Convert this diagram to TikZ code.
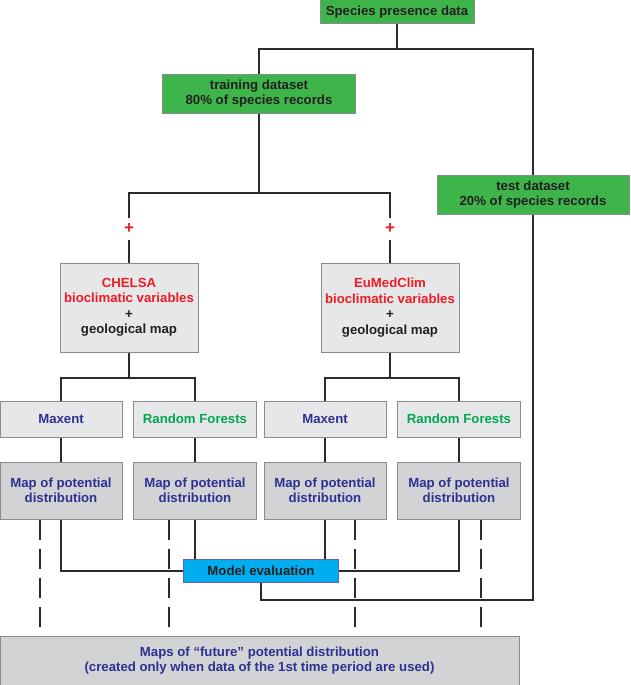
\documentclass[tikz,border=0pt]{standalone}
\usepackage{fontspec}
\setmainfont{Liberation Sans}
\definecolor{boxgreen}{HTML}{3DB54A}
\definecolor{lightgray}{HTML}{E6E7E8}
\definecolor{mapgray}{HTML}{D1D3D4}
\definecolor{evalblue}{HTML}{00AEEF}
\definecolor{txtred}{HTML}{ED1C24}
\definecolor{txtnavy}{HTML}{2E3192}
\definecolor{txtgreen}{HTML}{00A651}
\definecolor{txtdark}{HTML}{231F20}
\definecolor{bordergray}{HTML}{8A8C8E}
\definecolor{linedark}{HTML}{2B2B2B}
\tikzset{
  basebox/.style={draw=bordergray, line width=1pt, rectangle, inner sep=0pt, align=center,
    font=\bfseries\fontsize{13.2}{15.5}\selectfont},
  greenbox/.style={basebox, fill=boxgreen, text=txtdark},
  graybox/.style={basebox, fill=lightgray},
  mapbox/.style={basebox, fill=mapgray, text=txtnavy},
  evalbox/.style={basebox, fill=evalblue, draw=bordergray!70!blue, text=txtdark},
  plusnode/.style={inner sep=0pt, minimum size=22pt, text=txtred, font=\bfseries\fontsize{17}{17}\selectfont},
  conn/.style={draw=linedark, line width=2pt},
  dashline/.style={draw=linedark, line width=2pt, dash pattern=on 20pt off 9pt}
}
\begin{document}
\begin{tikzpicture}[x=1pt,y=-1pt]
\useasboundingbox (0,0) rectangle (630,685);
% nodes
\node[greenbox, minimum width=154pt, minimum height=24pt] (species) at (397,12) {Species presence data};
\node[greenbox, minimum width=193pt, minimum height=39pt] (train) at (259,93.5) {training dataset\\80\% of species records};
\node[greenbox, minimum width=192pt, minimum height=39pt] (test) at (533,194.5) {test dataset\\20\% of species records};
\node[plusnode] (plusL) at (129,229) {+};
\node[plusnode] (plusR) at (390,229) {+};
\node[graybox, minimum width=138pt, minimum height=89pt] (chelsa) at (129,307.5)
  {\textcolor{txtred}{CHELSA}\\\textcolor{txtred}{bioclimatic variables}\\\textcolor{txtdark}{+}\\\textcolor{txtdark}{geological map}};
\node[graybox, minimum width=138pt, minimum height=89pt] (eumed) at (390,307.5)
  {\textcolor{txtred}{EuMedClim}\\\textcolor{txtred}{bioclimatic variables}\\\textcolor{txtdark}{+}\\\textcolor{txtdark}{geological map}};
\node[graybox, text=txtnavy, minimum width=122pt, minimum height=36pt] (max1) at (61,419) {Maxent};
\node[graybox, text=txtgreen, minimum width=123pt, minimum height=36pt] (rf1) at (195,419) {Random Forests};
\node[graybox, text=txtnavy, minimum width=122pt, minimum height=36pt] (max2) at (325,419) {Maxent};
\node[graybox, text=txtgreen, minimum width=123pt, minimum height=36pt] (rf2) at (459,419) {Random Forests};
\node[mapbox, minimum width=122pt, minimum height=57pt] (map1) at (61,490.5) {Map of potential\\distribution};
\node[mapbox, minimum width=123pt, minimum height=57pt] (map2) at (195,490.5) {Map of potential\\distribution};
\node[mapbox, minimum width=122pt, minimum height=57pt] (map3) at (325,490.5) {Map of potential\\distribution};
\node[mapbox, minimum width=123pt, minimum height=57pt] (map4) at (459,490.5) {Map of potential\\distribution};
\node[evalbox, minimum width=155pt, minimum height=23pt] (eval) at (261,570.5) {Model evaluation};
\node[mapbox, minimum width=519pt, minimum height=49pt] (bottom) at (259.5,660.5)
  {Maps of “future” potential distribution\\(created only when data of the 1st time period are used)};
% split points
\coordinate (topsplit) at (397,49);
\coordinate (trsplit) at (259,193);
\coordinate (csplit) at (129,378);
\coordinate (esplit) at (390,378);
\coordinate (ecorner) at (533,600);
% connectors
\draw[conn] (species.south) -- (topsplit);
\draw[conn] (train.north) |- (topsplit) -| (test.north);
\draw[conn] (train.south) -- (trsplit);
\draw[conn] (plusL.north) |- (trsplit) -| (plusR.north);
\draw[conn] (plusL.south) -- (chelsa.north);
\draw[conn] (plusR.south) -- (eumed.north);
\draw[conn] (chelsa.south) -- (csplit);
\draw[conn] (max1.north) |- (csplit) -| (rf1.north);
\draw[conn] (eumed.south) -- (esplit);
\draw[conn] (max2.north) |- (esplit) -| (rf2.north);
\draw[conn] (max1.south) -- (map1.north);
\draw[conn] (rf1.south) -- (map2.north);
\draw[conn] (max2.south) -- (map3.north);
\draw[conn] (rf2.south) -- (map4.north);
\draw[conn] (map1.south) |- (eval.west);
\draw[conn] (map2.south) -- (map2.south |- eval.north);
\draw[conn] (map3.south) -- (map3.south |- eval.north);
\draw[conn] (map4.south) |- (eval.east);
\draw[conn] (eval.south) |- (ecorner) -- (test.south);
% dashed connectors
\draw[dashline] ([xshift=-21pt]map1.south) -- ([xshift=-21pt]map1.south |- bottom.north);
\draw[dashline] ([xshift=-26pt]map2.south) -- ([xshift=-26pt]map2.south |- bottom.north);
\draw[dashline] ([xshift=30pt]map3.south) -- ([xshift=30pt]map3.south |- bottom.north);
\draw[dashline] ([xshift=22pt]map4.south) -- ([xshift=22pt]map4.south |- bottom.north);
\end{tikzpicture}
\end{document}
